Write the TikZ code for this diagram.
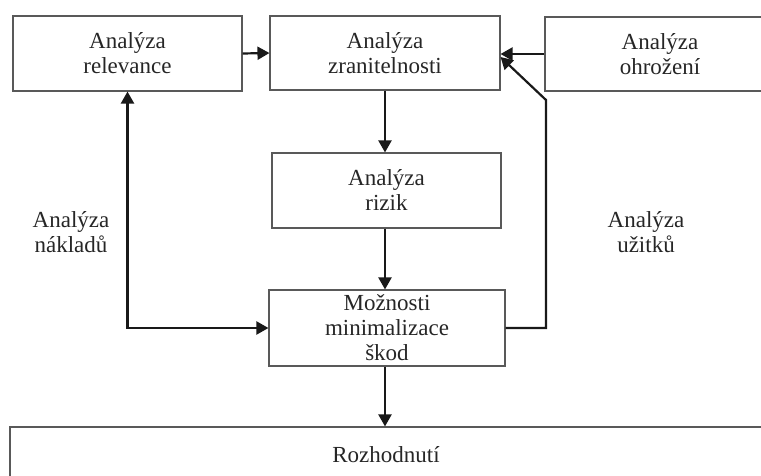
\documentclass[tikz,border=0pt]{standalone}
\usepackage{fontspec}
\setmainfont{Liberation Serif}
\usetikzlibrary{arrows.meta,calc}
\begin{document}
\begin{tikzpicture}[x=1pt,y=-1pt,
  box/.style={draw=black!65, line width=1.1pt, align=center, inner sep=0pt,
    font=\fontsize{23}{25}\selectfont, text=black!85},
  lbl/.style={align=center, inner sep=0pt, font=\fontsize{23}{25}\selectfont, text=black!85},
  conn/.style={line width=2.2pt, draw=black!90, -{Triangle[length=12pt,width=13pt]}},
  conn2/.style={line width=2.2pt, draw=black!90, {Triangle[length=12pt,width=13pt]}-{Triangle[length=12pt,width=13pt]}}]
\useasboundingbox (0,0) rectangle (761,476);
\begin{scope}
\clip (0,0) rectangle (761,476);
\node[box, minimum width=229pt, minimum height=75pt] (rel) at (127.5,53.5) {Analýza\\relevance};
\node[box, minimum width=230pt, minimum height=74pt] (zran) at (385,53) {Analýza\\zranitelnosti};
\node[box, minimum width=230pt, minimum height=74pt] (ohr) at (660,54) {Analýza\\ohrožení};
\node[box, minimum width=229pt, minimum height=75pt] (riz) at (386.5,190.5) {Analýza\\rizik};
\node[box, minimum width=236pt, minimum height=76pt] (moz) at (387,328) {Možnosti\\minimalizace\\škod};
\node[box, minimum width=752pt, minimum height=56pt] (roz) at (386,455) {Rozhodnutí};
\node[lbl] (nak) at (71,232) {Analýza\\nákladů};
\node[lbl] (uzi) at (646,232) {Analýza\\užitků};
\coordinate (ucorner) at (546,100);
\coordinate (uend) at ($(zran.east)+(0,4)$);
\end{scope}
\draw[conn] (rel.east) -- (zran.west);
\draw[conn] (ohr.west) -- (ohr.west -| zran.east);
\draw[conn] (zran.south) -- (zran.south |- riz.north);
\draw[conn] (zran.south |- riz.south) -- (zran.south |- moz.north);
\draw[conn] (zran.south |- moz.south) -- (zran.south |- roz.north);
\draw[conn2] (rel.south) |- (moz.west);
\draw[conn] (moz.east) -- (moz.east -| ucorner) -- (ucorner) -- (uend);
\end{tikzpicture}
\end{document}
